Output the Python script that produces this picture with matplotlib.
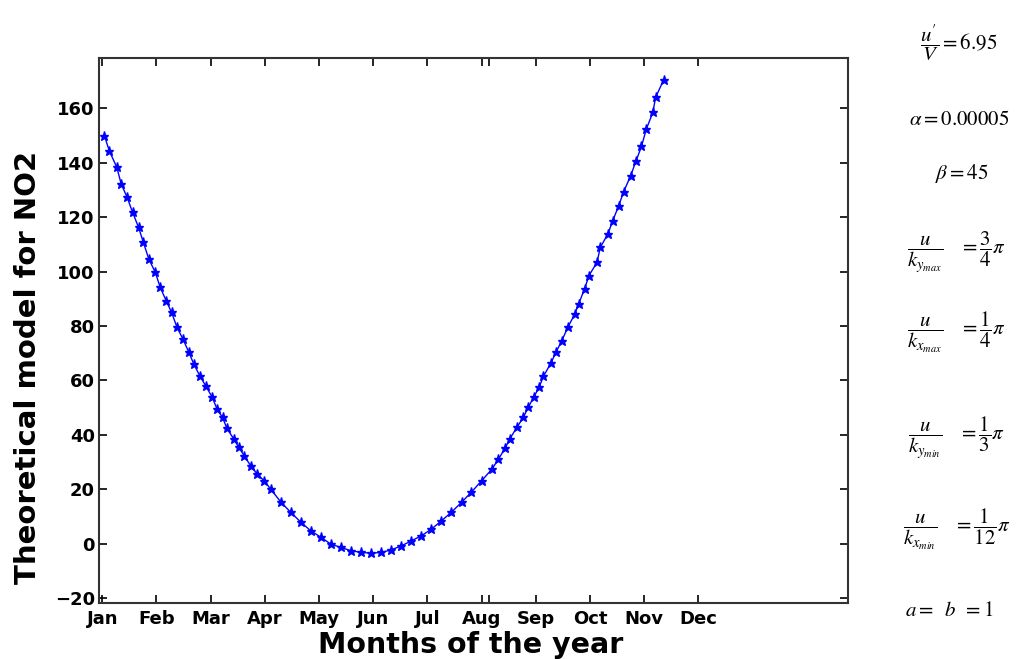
import numpy as np
import matplotlib
matplotlib.use("Agg")
import matplotlib.pyplot as plt

plt.rcParams['mathtext.fontset'] = 'stix'

# values (x in months from Jan)
month_pos = [0.04, 0.13, 0.27, 0.35, 0.46, 0.56, 0.67, 0.76, 0.86, 0.98,
             1.07, 1.18, 1.28, 1.38, 1.49, 1.60, 1.69, 1.80, 1.91, 2.03,
             2.12, 2.22, 2.30, 2.43, 2.52, 2.62, 2.74, 2.86, 2.99, 3.11,
             3.30, 3.48, 3.67, 3.85, 4.04, 4.22, 4.41, 4.59, 4.78, 4.96,
             5.15, 5.33, 5.52, 5.70, 5.89, 6.07, 6.26, 6.44, 6.63, 6.81,
             7.00, 7.19, 7.31, 7.43, 7.52, 7.65, 7.77, 7.86, 7.96, 8.06,
             8.14, 8.28, 8.37, 8.48, 8.59, 8.72, 8.79, 8.90, 8.98, 9.13,
             9.19, 9.33, 9.42, 9.53, 9.62, 9.75, 9.85, 9.95, 10.04, 10.16,
             10.21, 10.36]
no2 = [150.0, 144.4, 138.3, 132.2, 127.3, 121.8, 116.3, 110.7, 104.6, 99.7,
       94.2, 89.3, 85.0, 79.5, 75.2, 70.3, 66.0, 61.7, 58.0, 53.8,
       49.4, 46.4, 42.4, 38.4, 35.4, 32.3, 28.6, 25.6, 23.1, 20.0,
       15.2, 11.5, 7.8, 4.7, 2.3, -0.2, -1.4, -2.6, -3.2, -3.5,
       -3.2, -2.3, -0.8, 1.0, 2.9, 5.3, 8.4, 11.5, 15.2, 18.9,
       23.1, 27.4, 31.0, 35.0, 38.5, 42.7, 46.4, 50.1, 53.8, 57.4,
       61.5, 66.4, 70.3, 74.6, 79.5, 84.4, 88.1, 93.6, 98.5, 103.4,
       108.9, 113.8, 118.7, 124.2, 129.3, 135.2, 140.7, 146.0, 152.4, 158.5,
       164.0, 170.5]

months = ['Jan', 'Feb', 'Mar', 'Apr', 'May', 'Jun', 'Jul', 'Aug', 'Sep',
          'Oct', 'Nov', 'Dec']
yticks = [-20, 0, 20, 40, 60, 80, 100, 120, 140, 160]

params = [r'$\dfrac{u^{\prime}}{V} = 6.95$',
          r'$\alpha = 0.00005$',
          r'$\beta = 45$',
          r'$\dfrac{u}{k_{y_{max}}} \quad = \dfrac{3}{4}\pi$',
          r'$\dfrac{u}{k_{x_{max}}} \quad = \dfrac{1}{4}\pi$',
          r'$\dfrac{u}{k_{y_{min}}} \quad = \dfrac{1}{3}\pi$',
          r'$\dfrac{u}{k_{x_{min}}} \quad = \dfrac{1}{12}\pi$',
          r'$a = \;\; b \;\; = 1$']
param_y = [0.935, 0.82, 0.737, 0.617, 0.495, 0.335, 0.197, 0.075]
param_x = [0.927, 0.928, 0.93, 0.925, 0.925, 0.925, 0.925, 0.918]

fig = plt.figure(figsize=(10.34, 6.59), dpi=100)
ax = fig.add_axes([0.0957, 0.085, 0.7244, 0.827])

ax.plot(month_pos, no2, '-*', color='blue', markersize=6.5, linewidth=1)

ax.set_xlim(-0.06, 13.76)
ax.set_ylim(-21.8, 178.5)
ax.set_xticks(list(range(12)) + [7.13])
ax.set_xticklabels(months + [''])
ax.set_yticks(yticks)

ax.tick_params(direction='in', top=True, right=True, length=6, width=1.2,
               labelsize=13, pad=3)
ax.tick_params(axis='x', pad=5)
for lab in ax.get_xticklabels() + ax.get_yticklabels():
    lab.set_fontweight('bold')
for sp in ax.spines.values():
    sp.set_linewidth(1.5)
    sp.set_color('#333333')

fig.text(0.455, 0.021, 'Months of the year', ha='center', va='center',
         fontsize=20.5, fontweight='heavy')
fig.text(0.027, 0.443, 'Theoretical model for NO2', ha='center', va='center',
         rotation=90, fontsize=21, fontweight='heavy')

for txt, tx, ty in zip(params, param_x, param_y):
    fig.text(tx, ty, txt, ha='center', va='center', fontsize=15)

fig.savefig('out.png', dpi=100)
